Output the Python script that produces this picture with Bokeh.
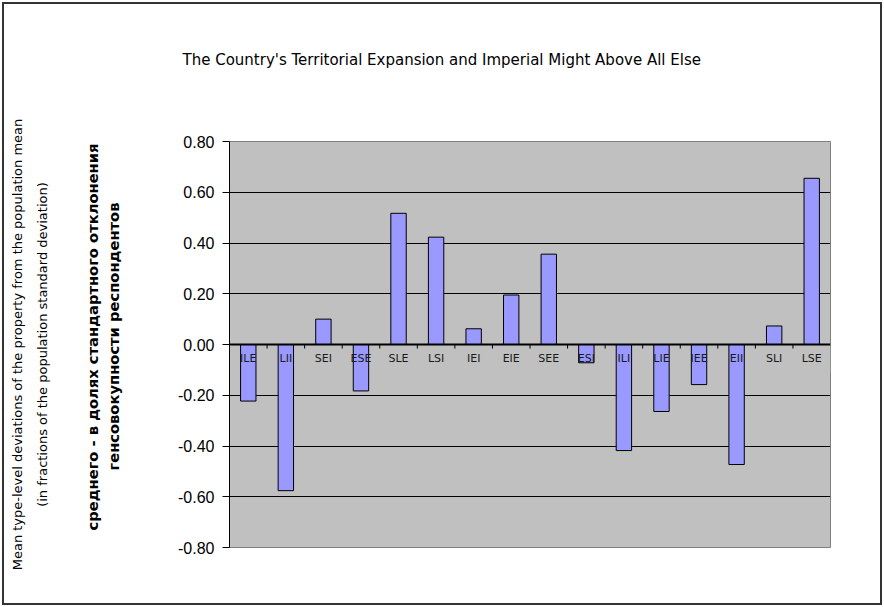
from bokeh.plotting import figure
from bokeh.models import (Range1d, FixedTicker, NumeralTickFormatter, Title,
                          ColumnDataSource)
from bokeh.core.properties import value
from bokeh.embed import file_html
from bokeh.resources import INLINE

# ---- data ----
categories = ["ILE", "LII", "SEI", "ESE", "SLE", "LSI", "IEI", "EIE",
              "SEE", "ESI", "ILI", "LIE", "IEE", "EII", "SLI", "LSE"]
deviations = [-0.223, -0.576, 0.100, -0.183, 0.517, 0.423, 0.062, 0.195,
              0.356, -0.072, -0.418, -0.264, -0.158, -0.473, 0.073, 0.655]
y_ticks = [-0.8, -0.6, -0.4, -0.2, 0.0, 0.2, 0.4, 0.6, 0.8]
grid_ticks = [-0.6, -0.4, -0.2, 0.2, 0.4, 0.6]

title_text = "The Country's Territorial Expansion and Imperial Might Above All Else"
ytitle_1 = "Mean type-level deviations of the property from the population mean"
ytitle_2 = "(in fractions of the population standard deviation)"
ytitle_3 = "среднего - в долях стандартного отклонения"
ytitle_4 = "генсовокупности респондентов"

n = len(categories)
xs = [i + 0.5 for i in range(n)]

p = figure(width=884, height=607, output_backend="svg", toolbar_location=None,
           x_range=Range1d(0, n), y_range=Range1d(-0.8, 0.8),
           min_border_left=228, min_border_right=54,
           min_border_top=141, min_border_bottom=60)
p.border_fill_alpha = 0.0
p.styles = {"box-shadow": "inset 0 0 0 2px white, inset 0 0 0 4px #333333"}

p.background_fill_color = "#C0C0C0"
p.outline_line_color = "#808080"
p.outline_line_width = 1

p.xaxis.visible = False
p.xgrid.visible = False

p.ygrid.ticker = FixedTicker(ticks=grid_ticks)
p.ygrid.grid_line_color = "black"
p.ygrid.grid_line_width = 1

ax = p.yaxis[0]
ax.ticker = FixedTicker(ticks=y_ticks)
ax.formatter = NumeralTickFormatter(format="0.00")
ax.axis_line_color = "black"
ax.major_tick_line_color = "black"
ax.major_tick_out = 7
ax.major_tick_in = 0
ax.minor_tick_line_color = None
ax.major_label_text_font = "Liberation Sans"
ax.major_label_text_font_size = "16px"
ax.major_label_text_color = "black"
ax.major_label_standoff = 8

# label band behind category names
p.quad(left=[0], right=[n], top=[0], bottom=[-0.11],
       fill_color="#C0C0C0", line_color=None)

src = ColumnDataSource(dict(x=xs, top=deviations, cat=categories))
p.vbar(x="x", top="top", bottom=0, width=0.41, source=src,
       fill_color="#9999FF", line_color="black", line_width=1)

p.segment(x0=[0], y0=[0], x1=[n], y1=[0], line_color="black", line_width=2)
bx = list(range(1, n))
p.segment(x0=bx, y0=[0] * len(bx), x1=bx, y1=[-0.016] * len(bx),
          line_color="black", line_width=1)

p.text(x="x", y=-0.055, text="cat", source=src, text_align="center",
       text_baseline="middle", text_font=value("DejaVu Sans"),
       text_font_size="11px", text_color="#1a1a1a")


def spacer(standoff):
    return Title(text=" ", text_font_size="1px", text_color="white",
                 standoff=standoff)


def line(txt, size, style, standoff, offset=0, align="center"):
    return Title(text=txt, align=align, offset=offset,
                 text_font="DejaVu Sans", text_font_size=size,
                 text_font_style=style, text_color="black",
                 standoff=standoff)


# chart title (outermost above), with a spacer between it and the frame
p.title = line(title_text, "15px", "normal", 0, offset=-47, align="left")
p.add_layout(spacer(70), "above")

# y-axis title lines, from the frame outward
p.add_layout(spacer(48), "left")
p.add_layout(line(ytitle_4, "14.7px", "bold", 5, offset=77, align="left"), "left")
p.add_layout(line(ytitle_3, "14.7px", "bold", 0, offset=17, align="left"), "left")
p.add_layout(spacer(29), "left")
p.add_layout(line(ytitle_2, "13px", "normal", 0), "left")
p.add_layout(line(ytitle_1, "13px", "normal", 15), "left")

open("out.html", "w").write(file_html(p, INLINE))
